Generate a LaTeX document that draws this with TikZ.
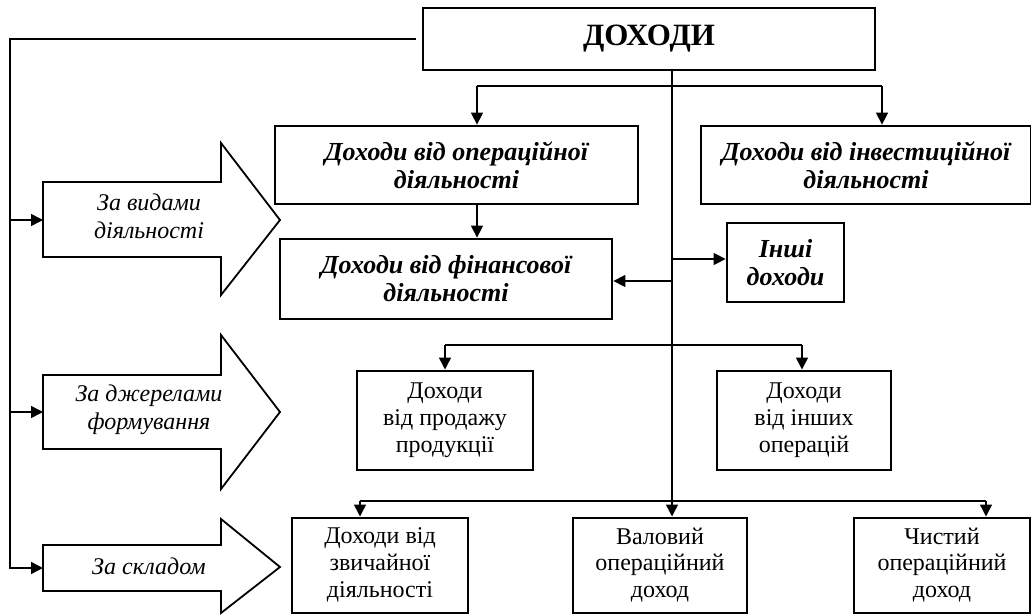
\documentclass[tikz,border=0pt]{standalone}
\usepackage{fontspec}
\setmainfont{Liberation Serif}
\usetikzlibrary{arrows.meta}

\begin{document}
\begin{tikzpicture}[x=0.5pt,y=-0.5pt,
    box/.style={draw, line width=1pt, inner sep=0pt, align=center, font=\fontsize{12}{13.4}\selectfont},
    bbox/.style={box, line width=1.4pt, font=\fontsize{13}{14}\selectfont\bfseries\itshape},
    conn/.style={line width=0.75pt},
    arr/.style={conn, -{Triangle[length=6pt,width=6pt]}},
    blk/.style={draw, line width=0.9pt, line join=miter},
    lbl/.style={align=center, font=\fontsize{12}{14}\selectfont\itshape}]
  \useasboundingbox (0,0) rectangle (1031,615);

  \node[bbox, font=\fontsize{15.5}{18}\selectfont\bfseries, minimum width=226pt, minimum height=31pt] (dokh) at (649,39) {ДОХОДИ};
  \node[bbox, minimum width=181.5pt, minimum height=39pt] (oper) at (456.5,165) {Доходи від операційної\\діяльності};
  \node[bbox, minimum width=165pt, minimum height=39pt] (invest) at (866,165) {Доходи від інвестиційної\\діяльності};
  \node[bbox, minimum width=166pt, minimum height=40pt] (fin) at (446,279) {Доходи від фінансової\\діяльності};
  \node[bbox, minimum width=58.5pt, minimum height=39.5pt] (inshi) at (785.5,262.5) {Інші\\доходи};
  \node[box, minimum width=88pt, minimum height=49.5pt] (prod) at (445,420) {Доходи\\від продажу\\продукції};
  \node[box, minimum width=87pt, minimum height=49.5pt] (insh_op) at (804,420) {Доходи\\від інших\\операцій};
  \node[box, minimum width=88pt, minimum height=47.5pt] (zvych) at (380,565) {Доходи від\\звичайної\\діяльності};
  \node[box, minimum width=87pt, minimum height=47.5pt] (val) at (660,565) {Валовий\\операційний\\доход};
  \node[box, minimum width=88pt, minimum height=47.5pt] (chyst) at (942,565) {Чистий\\операційний\\доход};

  \draw[blk] (43,182) -- (221,182) -- (221,143) -- (280,220) -- (221,295) -- (221,257) -- (43,257) -- cycle;
  \draw[blk] (43,375) -- (221,375) -- (221,335) -- (280,412) -- (221,489) -- (221,449) -- (43,449) -- cycle;
  \draw[blk] (43,545) -- (221,545) -- (221,519) -- (280,567) -- (221,613) -- (221,591) -- (43,591) -- cycle;
  \node[lbl] (vydy) at (149,216) {За видами\\діяльності};
  \node[lbl] (dzher) at (149,410) {За джерелами\\формування};
  \node[lbl] (sklad) at (149,566) {За складом};

  \coordinate (spine) at (10,39);
  \coordinate (tail1) at (43,220);
  \coordinate (tail2) at (43,412);
  \coordinate (tail3) at (43,568);
  \draw[arr] ([xshift=-3pt]dokh.west) -- (spine) |- (tail3);
  \draw[arr] (spine |- tail1) -- (tail1);
  \draw[arr] (spine |- tail2) -- (tail2);

  \coordinate (trunk) at (672,70);
  \draw[arr] (trunk) -- (trunk |- val.north);

  \coordinate (b1) at (477,86);
  \coordinate (b2) at (882,86);
  \draw[conn] (b1) -- (b2);
  \draw[arr] (b1) -- (b1 |- oper.north);
  \draw[arr] (b2) -- (b2 |- invest.north);
  \draw[arr] (b1 |- oper.south) -- (b1 |- fin.north);

  \coordinate (j1) at (672,259);
  \coordinate (j2) at (672,281);
  \draw[arr] (j1) -- (j1 -| inshi.west);
  \draw[arr] (j2) -- (j2 -| fin.east);

  \coordinate (m1) at (445,345);
  \coordinate (m2) at (802,345);
  \draw[conn] (m1) -- (m2);
  \draw[arr] (m1) -- (m1 |- prod.north);
  \draw[arr] (m2) -- (m2 |- insh_op.north);

  \coordinate (n1) at (360,501);
  \coordinate (n2) at (986,501);
  \draw[conn] (n1) -- (n2);
  \draw[arr] (n1) -- (n1 |- zvych.north);
  \draw[arr] (n2) -- (n2 |- chyst.north);
\end{tikzpicture}
\end{document}
